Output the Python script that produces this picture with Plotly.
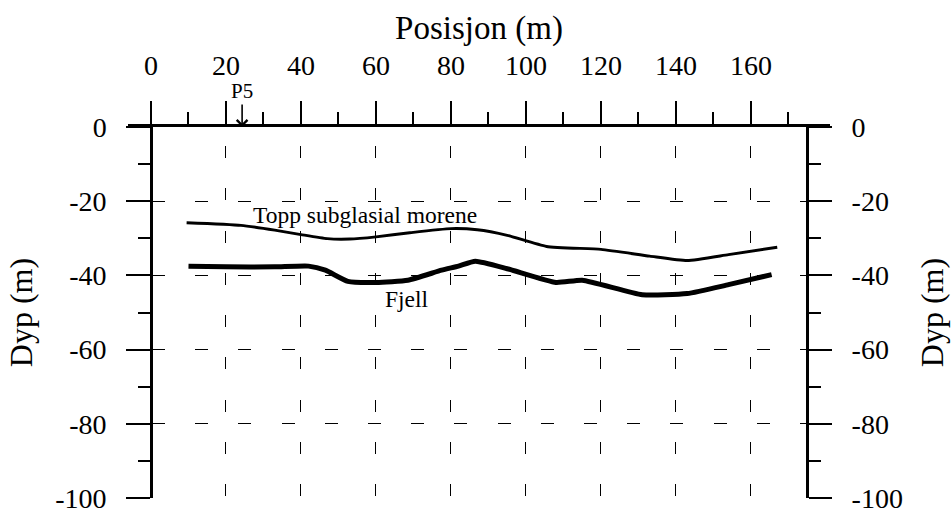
import plotly.graph_objects as go

# ---- data ----
topp_x = [9.5, 24, 33, 40, 47, 53, 60, 69, 80, 87, 95, 105.5, 120, 133, 143, 154, 167]
topp_y = [-25.8, -26.5, -27.8, -29.0, -30.1, -30.2, -29.6, -28.5, -27.4, -27.7, -29.2,
          -32.2, -33.0, -34.8, -36.0, -34.4, -32.4]
fjell_x = [10, 20, 33, 42, 46.5, 52.5, 60, 68.5, 77.5, 82, 86.5, 95, 108, 115, 131, 143, 154, 165.5]
fjell_y = [-37.5, -37.7, -37.7, -37.5, -38.6, -41.6, -41.9, -41.3, -38.6, -37.5, -36.2,
           -38.2, -41.9, -41.3, -45.2, -44.9, -42.5, -39.8]

x_ticks = [0, 20, 40, 60, 80, 100, 120, 140, 160]
x_ticktext = ["0", "20", "40", "60", "80", "100", "120", "140", "160"]
x_minor = [10, 30, 50, 70, 90, 110, 130, 150, 170]
y_ticks = [0, -20, -40, -60, -80, -100]
y_ticktext = ["0", "-20", "-40", "-60", "-80", "-100"]
y_minor = [-10, -30, -50, -70, -90]

p5_x = 24.3
label_topp = ("Topp subglasial morene", 57, -23.8)
label_fjell = ("Fjell", 68.2, -46.3)

x_range = [-6.13, 181.07]
y_range = [-100, 0]
right_axis_x = 175

FONT = "'Liberation Serif', 'Times New Roman', Times, serif"

W, H = 952, 516
ML, MR, MT, MB = 128, 122, 127, 18
PW, PH = W - ML - MR, H - MT - MB


def f(size):
    return dict(family=FONT, size=size, color="black")


def dash_pattern(first, period, dash, total):
    """Explicit SVG dash array (px) so the dash phase matches the printed grid."""
    arr = [0]
    pos = 0
    k = 0
    while True:
        s = int(round(first + k * period))
        if s >= total:
            break
        arr.append(s - pos)
        arr.append(dash)
        pos = s + dash
        k += 1
    arr.append(max(total - pos, 0) + 60)
    return ",".join(f"{v}px" for v in arr)


vdash = dash_pattern(19, 42.3, 12, PH)   # vertical grid (drawn top -> bottom)
hdash = dash_pattern(24, 43.2, 13, PW)   # horizontal grid (drawn left -> right)

fig = go.Figure()
fig.add_trace(go.Scatter(x=topp_x, y=topp_y, mode="lines",
                         line=dict(color="black", width=2.9, shape="spline", smoothing=0.5),
                         showlegend=False, hoverinfo="skip"))
fig.add_trace(go.Scatter(x=fjell_x, y=fjell_y, mode="lines",
                         line=dict(color="black", width=5, shape="spline", smoothing=0.5),
                         showlegend=False, hoverinfo="skip"))
# invisible trace for right axis
fig.add_trace(go.Scatter(x=[right_axis_x], y=[y_range[0]], yaxis="y2", mode="markers",
                         marker=dict(opacity=0), showlegend=False, hoverinfo="skip"))

span = x_range[1] - x_range[0]
pos_left = (0 - x_range[0]) / span
pos_right = (right_axis_x - x_range[0]) / span

fig.update_layout(
    template="none",
    width=W, height=H,
    margin=dict(l=ML, r=MR, t=MT, b=MB),
    paper_bgcolor="white", plot_bgcolor="white",
    font=f(28),
    xaxis=dict(
        range=x_range, side="top", anchor="y",
        tickmode="array", tickvals=x_ticks, ticktext=x_ticktext,
        ticks="outside", ticklen=23, tickwidth=2, tickcolor="black",
        ticklabelstandoff=15,
        showline=True, linecolor="black", linewidth=2.5,
        zeroline=False,
        showgrid=True, gridcolor="black", gridwidth=1.2, griddash=vdash,
        minor=dict(tickmode="array", tickvals=x_minor, ticks="outside", ticklen=12,
                   tickwidth=2, tickcolor="black", showgrid=False),
        tickfont=f(28),
        title=dict(text="Posisjon (m)", font=f(33), standoff=1),
    ),
    yaxis=dict(
        range=y_range, anchor="free", position=pos_left,
        tickmode="array", tickvals=y_ticks, ticktext=y_ticktext,
        ticks="outside", ticklen=24, tickwidth=2, tickcolor="black",
        ticklabelstandoff=14,
        showline=True, linecolor="black", linewidth=2.5,
        zeroline=False,
        showgrid=True, gridcolor="black", gridwidth=1.2, griddash=hdash,
        minor=dict(tickmode="array", tickvals=y_minor, ticks="outside", ticklen=12,
                   tickwidth=2, tickcolor="black", showgrid=False),
        tickfont=f(28),
        title=dict(text="Dyp (m)", font=f(32), standoff=12),
    ),
    yaxis2=dict(
        range=y_range, anchor="free", position=pos_right, overlaying="y", side="right",
        tickmode="array", tickvals=y_ticks, ticktext=y_ticktext,
        ticks="outside", ticklen=23, tickwidth=2, tickcolor="black",
        ticklabelstandoff=14,
        showline=True, linecolor="black", linewidth=2.5,
        showgrid=False, zeroline=False,
        minor=dict(tickmode="array", tickvals=y_minor, ticks="outside", ticklen=12,
                   tickwidth=2, tickcolor="black", showgrid=False),
        tickfont=f(28),
        title=dict(text="Dyp (m)", font=f(32), standoff=18),
    ),
    annotations=[
        dict(x=p5_x, y=0, xref="x", yref="y", text="P5", showarrow=True,
             ax=0, ay=-36, arrowhead=4, arrowsize=1.3, arrowwidth=1.6, arrowcolor="black",
             font=f(21)),
        dict(x=label_topp[1], y=label_topp[2], xref="x", yref="y", text=label_topp[0],
             showarrow=False, font=f(23.5)),
        dict(x=label_fjell[1], y=label_fjell[2], xref="x", yref="y", text=label_fjell[0],
             showarrow=False, font=f(23.5)),
    ],
)

fig.write_html("out.html")
